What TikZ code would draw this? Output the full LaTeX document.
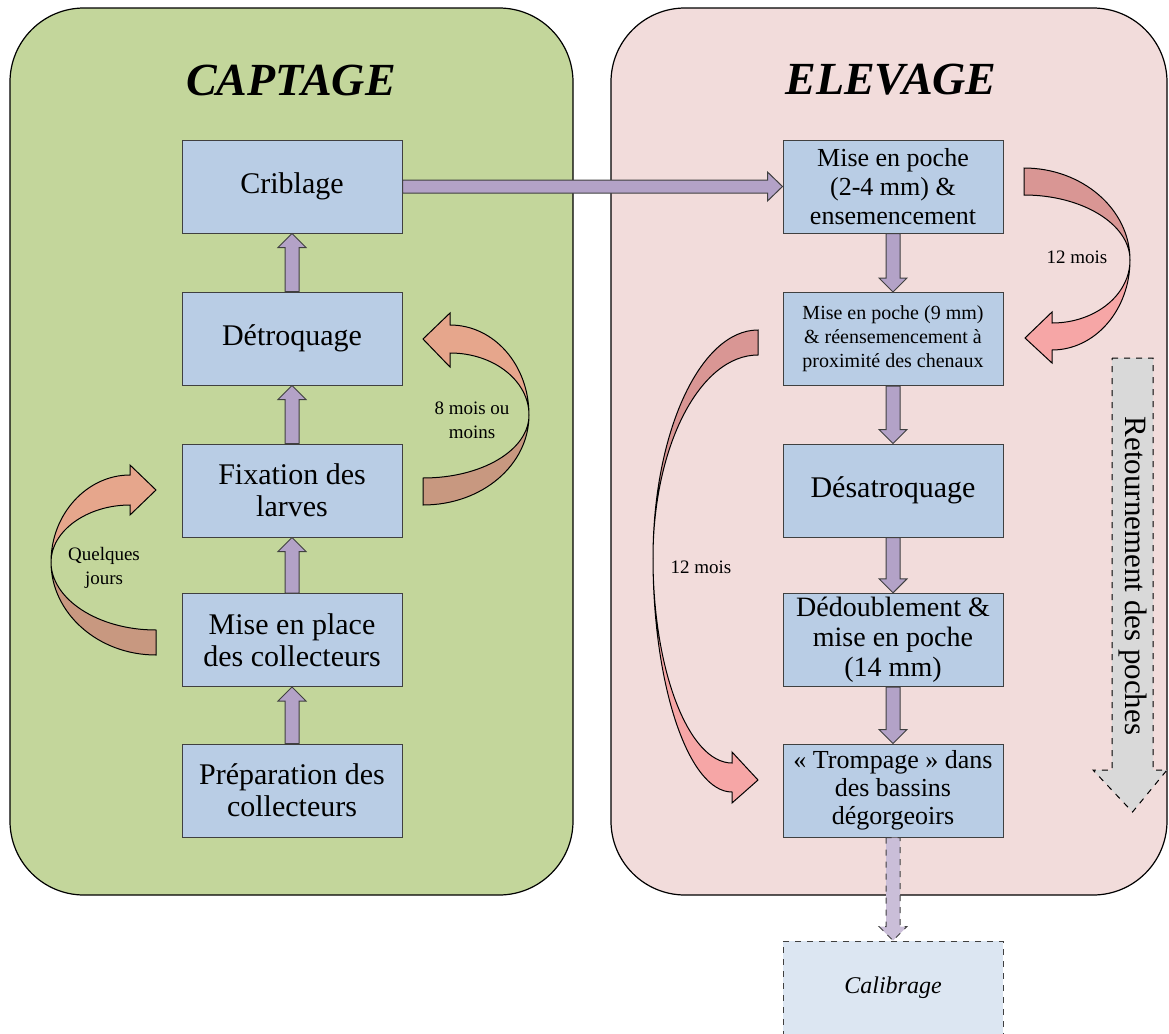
\documentclass[tikz,border=0pt]{standalone}
\usepackage{fontspec}
\setmainfont{Liberation Serif}
\usetikzlibrary{calc,positioning}

\definecolor{capgreen}{RGB}{195,214,155}
\definecolor{elevpink}{RGB}{242,220,219}
\definecolor{stepblue}{RGB}{185,205,229}
\definecolor{calblue}{RGB}{220,230,242}
\definecolor{arrlilac}{RGB}{179,162,199}
\definecolor{arrgray}{RGB}{217,217,217}
\definecolor{salmonlt}{RGB}{230,166,140}
\definecolor{salmondk}{RGB}{200,152,128}
\definecolor{pinklt}{RGB}{246,166,166}
\definecolor{pinkdk}{RGB}{217,150,148}

\newcommand{\fsz}[2]{\fontsize{#1}{#2}\selectfont}

% block arrows between two named boxes
\newcommand{\blkup}[2]{\draw[blockarr] ($(#1.north)+(-7,0)$) -- ($(#2.south)+(-7,14)$) -- ($(#2.south)+(-14,14)$) -- (#2.south) -- ($(#2.south)+(14,14)$) -- ($(#2.south)+(7,14)$) -- ($(#1.north)+(7,0)$) -- cycle;}
\newcommand{\blkdown}[3][]{\draw[blockarr,#1] ($(#2.south)+(-7,0)$) -- ($(#3.north)+(-7,-14)$) -- ($(#3.north)+(-14,-14)$) -- (#3.north) -- ($(#3.north)+(14,-14)$) -- ($(#3.north)+(7,-14)$) -- ($(#2.south)+(7,0)$) -- cycle;}
\newcommand{\blkright}[2]{\draw[blockarr] ($(#1.east)+(0,-6.5)$) -- ($(#2.west)+(-15,-6.5)$) -- ($(#2.west)+(-15,-14.5)$) -- (#2.west) -- ($(#2.west)+(-15,14.5)$) -- ($(#2.west)+(-15,6.5)$) -- ($(#1.east)+(0,6.5)$) -- cycle;}

\begin{document}
\begin{tikzpicture}[x=0.5pt,y=-0.5pt]
  \tikzset{panel/.style={draw=black, rounded corners=37pt, line width=0.6pt},
    stepbox/.style={rectangle, draw=black!75, fill=stepblue, minimum width=110pt,
      minimum height=46.5pt, align=center, inner sep=2pt, line width=0.5pt},
    blockarr/.style={draw=black!75, fill=arrlilac, line width=0.5pt},
    bendarr/.style={draw=black, line width=0.5pt},
    title/.style={font=\fsz{23}{26}\bfseries\itshape},
    lbl/.style={font=\fsz{9.5}{12}, align=center}}

  \useasboundingbox (0,0) rectangle (1169,1034);

  % Panels
  \draw[panel, fill=capgreen] (10,8) rectangle (573,895);
  \draw[panel, fill=elevpink] (611,8) rectangle (1167,895);
  \node[title] (captage) at (291,80) {CAPTAGE};
  \node[title] (elevage) at (891,80) {ELEVAGE};

  % Captage column
  \node[stepbox, font=\fsz{15}{16}] (crib) at (292,186.5) {Criblage};
  \node[stepbox, font=\fsz{15}{16}] (detro) at (292,338.5) {Détroquage};
  \node[stepbox, font=\fsz{15}{16}] (fix) at (292,490.5) {Fixation des\\larves};
  \node[stepbox, font=\fsz{15}{16}] (place) at (292,640) {Mise en place\\des collecteurs};
  \node[stepbox, font=\fsz{15}{16}] (prep) at (292,790.5) {Préparation des\\collecteurs};

  \blkup{prep}{place}
  \blkup{place}{fix}
  \blkup{fix}{detro}
  \blkup{detro}{crib}

  % Elevage column
  \node[stepbox, font=\fsz{13}{14.5}] (poche1) at (893,186.5) {Mise en poche\\(2-4 mm) \&\\ensemencement};
  \node[stepbox, font=\fsz{10}{12}] (poche2) at (893,339) {Mise en poche (9 mm)\\\& réensemencement à\\proximité des chenaux};
  \node[stepbox, font=\fsz{15}{16}] (desa) at (893,490.5) {Désatroquage};
  \node[stepbox, font=\fsz{14}{15}] (dedoub) at (893,640) {Dédoublement \&\\mise en poche\\(14 mm)};
  \node[stepbox, font=\fsz{13}{14}] (tromp) at (893,790.5) {«~Trompage~» dans\\des bassins\\dégorgeoirs};
  \node[stepbox, dashed, fill=calblue, minimum height=47pt, font=\fsz{12}{14}\itshape] (calib) at (893,988) {Calibrage};

  \blkright{crib}{poche1}
  \blkdown{poche1}{poche2}
  \blkdown{poche2}{desa}
  \blkdown{desa}{dedoub}
  \blkdown{dedoub}{tromp}
  \blkdown[dashed, fill=arrlilac!70]{tromp}{calib}

  % Retournement des poches
  \draw[bendarr, dashed, fill=arrgray] (1112,358) -- (1153,358) -- (1153,770) -- (1167,770)
    -- (1132.5,812) -- (1093,770) -- (1112,770) -- cycle;
  \node[rotate=-90, font=\fsz{15.5}{17}] (retour) at (1133,576) {Retournement des poches};

  % Curved arrows, captage
  \draw[bendarr, fill=salmondk] (423,478) .. controls (482,478) and (529,450) .. (529,415)
    .. controls (529,465) and (482,505) .. (423,505) -- cycle;
  \draw[bendarr, fill=salmonlt] (529,415) .. controls (529,365) and (494,325) .. (450,325)
    -- (450,313) -- (423,339) -- (450,367) -- (450,353)
    .. controls (494,353) and (529,381) .. (529,415) -- cycle;
  \node[lbl] (lbhuit) at (472,420) {8 mois ou\\moins};

  \draw[bendarr, fill=salmondk] (156,630) .. controls (98,630) and (51,599) .. (51,562)
    .. controls (51,613) and (98,655) .. (156,655) -- cycle;
  \draw[bendarr, fill=salmonlt] (51,562) .. controls (51,514) and (87,475) .. (130,475)
    -- (130,465) -- (156,490) -- (130,515) -- (130,505)
    .. controls (87,505) and (51,531) .. (51,562) -- cycle;
  \node[lbl] (lbjours) at (104,568) {Quelques\\jours};

  % Curved arrows, elevage
  \draw[bendarr, fill=pinkdk] (1024,168) .. controls (1082,168) and (1130,209) .. (1130,260)
    .. controls (1130,224) and (1082,195) .. (1024,195) -- cycle;
  \draw[bendarr, fill=pinklt] (1130,260) .. controls (1130,310) and (1095,350) .. (1052,350)
    -- (1052,363) -- (1025,338) -- (1052,312) -- (1052,323)
    .. controls (1095,323) and (1130,295) .. (1130,260) -- cycle;
  \node[lbl] (lbdouze) at (1077,257) {12 mois};

  \draw[bendarr, fill=pinkdk] (758,330) .. controls (700,330) and (653,433) .. (653,558)
    .. controls (653,446) and (700,355) .. (758,355) -- cycle;
  \draw[bendarr, fill=pinklt] (653,558) .. controls (653,687) and (689,792) .. (732,792)
    -- (732,803) -- (758,780) -- (732,752) -- (732,763)
    .. controls (689,763) and (653,671) .. (653,558) -- cycle;
  \node[lbl] (lbdouzeb) at (701,567) {12 mois};
\end{tikzpicture}
\end{document}
